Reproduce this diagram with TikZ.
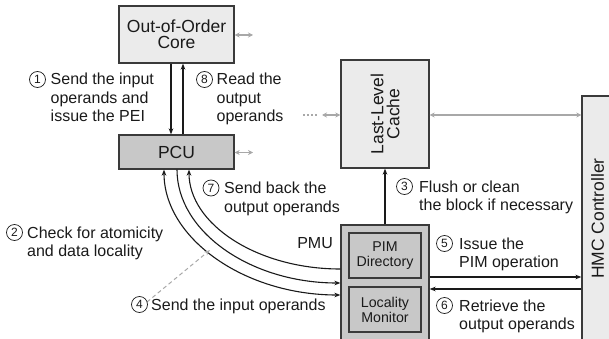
\documentclass[tikz,border=0pt]{standalone}
\usepackage{fontspec}
\setmainfont{Liberation Sans}
\usetikzlibrary{arrows.meta}
\definecolor{lightbox}{HTML}{EBEBEB}
\definecolor{darkbox}{HTML}{C8C8C8}
\definecolor{boxline}{HTML}{3A3A3A}
\definecolor{arrgray}{HTML}{A8A8A8}
\definecolor{ink}{HTML}{1A1A1A}
\begin{document}
\begin{tikzpicture}[x=1pt,y=-1pt,
  box/.style={draw=boxline, line width=1.3pt, inner sep=0pt, align=center, text=ink,
    font=\fontsize{17.5}{16}\selectfont},
  smallbox/.style={box, font=\fontsize{14.2}{15}\selectfont},
  lbl/.style={anchor=base west, inner sep=0pt, align=left, text=ink,
    font=\fontsize{16}{18.5}\selectfont},
  num/.style={circle, draw=ink, line width=0.7pt, inner sep=0pt, minimum size=16pt,
    text=ink, font=\fontsize{12}{12}\selectfont},
  blk/.style={draw=ink, line width=1.1pt},
  bar/.style={-{Stealth[length=6pt,width=4.6pt]}},
  gar/.style={draw=arrgray, line width=1.1pt, {Stealth[length=5pt,width=5pt]}-{Stealth[length=5pt,width=5pt]}}
]
\clip (0,0) rectangle (609,339);
\useasboundingbox (0,0) rectangle (609,339);

% boxes
\node[box, fill=lightbox, minimum width=115pt, minimum height=57pt] (core) at (176.5,34.5) {Out-of-Order\\Core};
\node[box, fill=darkbox, minimum width=115pt, minimum height=34pt] (pcu) at (176.5,152) {PCU};
\node[box, fill=lightbox, minimum width=88pt, minimum height=108pt] (llc) at (385,114) {};
\node[rotate=90, align=center, inner sep=0pt, text=ink, font=\fontsize{17.5}{16}\selectfont] (llct) at (llc.center) {Last-Level\\Cache};
\node[box, fill=darkbox, minimum width=88pt, minimum height=120pt] (pmu) at (385,285) {};
\node[smallbox, fill=darkbox, minimum width=72pt, minimum height=45pt] (pimd) at (385,255.5) {PIM\\Directory};
\node[smallbox, fill=darkbox, minimum width=72pt, minimum height=45pt] (locm) at (385,309.5) {Locality\\Monitor};
\node[box, fill=lightbox, minimum width=31pt, minimum height=245pt] (hmc) at (597.5,218.5) {};
\node[rotate=90, inner sep=0pt, text=ink, font=\fontsize{17.5}{16}\selectfont] (hmct) at (hmc.center) {HMC Controller};

\node[anchor=base east, inner sep=0pt, text=ink, font=\fontsize{16}{18.5}\selectfont] (pmul) at (333,248) {PMU};

% core <-> pcu
\draw[blk, bar] (core.south -| 171,0) -- (pcu.north -| 171,0);
\draw[blk, bar] (pcu.north -| 183,0) -- (core.south -| 183,0);

% pmu -> llc
\draw[blk, bar] (pmu.north) -- (llc.south);

% pmu <-> hmc
\draw[blk, bar] (pmu.east |- 0,277) -- (hmc.west |- 0,277);
\draw[blk, bar] (hmc.west |- 0,289) -- (pmu.east |- 0,289);

% curves pcu <-> pmu
\draw[blk, {Stealth[length=6pt,width=4.6pt]}-{Stealth[length=6pt,width=4.6pt]}]
  (pcu.south -| 164,0) .. controls (164,238) and (244,295) .. (pmu.west |- 0,295);
\draw[blk, bar]
  (pcu.south -| 177,0) .. controls (177,232) and (251,283) .. (pmu.west |- 0,283);
\draw[blk, bar]
  (pmu.west |- 0,269) .. controls (257,269) and (189,224) .. (pcu.south -| 189,0);

% gray arrows
\coordinate (ce) at (253,35);
\draw[gar] (core.east |- ce) -- (ce);
\coordinate (pe) at (253,152.5);
\draw[gar] (pcu.east |- pe) -- (pe);
\coordinate (lw) at (322,115);
\coordinate (ld1) at (303,115);
\coordinate (ld2) at (317,115);
\draw[gar] (lw) -- (llc.west |- lw);
\draw[draw=arrgray, line width=1.3pt, dash pattern=on 2pt off 2pt] (ld1) -- (ld2);
\draw[gar] (llc.east |- 0,115) -- (hmc.west |- 0,115);

% dashed pointer for step 4
\coordinate (d4s) at (147,302);
\coordinate (d4e) at (210,250);
\draw[draw=arrgray, line width=1pt, dash pattern=on 4pt off 3pt, -{Stealth[length=6pt,width=4.5pt]}] (d4s) -- (d4e);

% labels (anchor = baseline of the last line)
\node[num] (n1) at (37.5,79.5) {1};
\node[lbl] (t1) at (50.5,122) {Send the input\\operands and\\issue the PEI};
\node[num] (n8) at (204.5,79.5) {8};
\node[lbl] (t8) at (216.5,122) {Read the\\output\\operands};
\node[num] (n7) at (211,188) {7};
\node[lbl] (t7) at (224,212) {Send back the\\output operands};
\node[num] (n2) at (14.5,232.5) {2};
\node[lbl] (t2) at (27,256.5) {Check for atomicity\\and data locality};
\node[num] (n4) at (139.5,304.5) {4};
\node[lbl] (t4) at (151,310) {Send the input operands};
\node[num] (n3) at (404.5,186.5) {3};
\node[lbl] (t3) at (419,210.5) {Flush or clean\\the block if necessary};
\node[num] (n5) at (444.5,243.5) {5};
\node[lbl] (t5) at (459,267.5) {Issue the\\PIM operation};
\node[num] (n6) at (444.5,305.5) {6};
\node[lbl] (t6) at (459,329.5) {Retrieve the\\output operands};
\end{tikzpicture}
\end{document}
